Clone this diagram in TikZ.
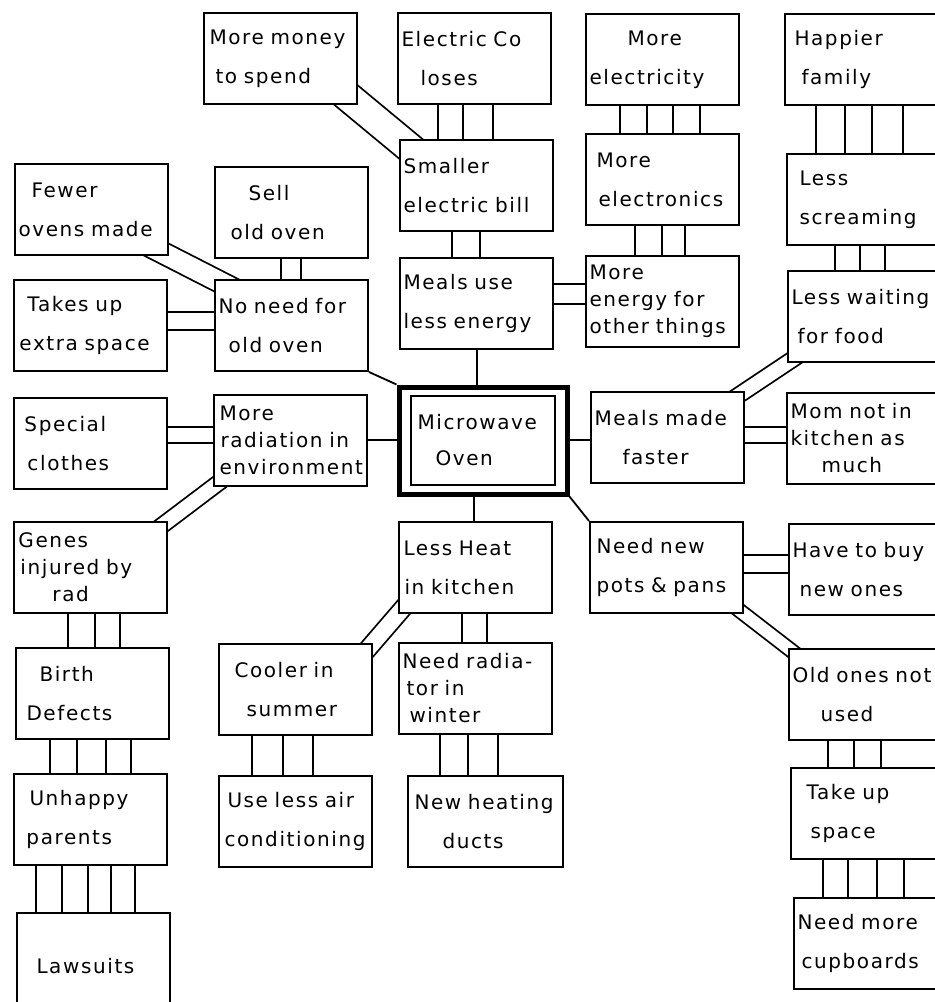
\documentclass[tikz,border=0pt]{standalone}
\usepackage{fontspec}
\setmainfont{DejaVu Sans}[LetterSpace=8]
\usetikzlibrary{backgrounds}
\tikzset{
evt/.style={
    draw,
    fill=white,
    line width=1pt,
    anchor=north west,
    minimum width=76.5pt,
    minimum height=45.5pt,
    text width=73pt,
    inner xsep=1.75pt,
    inner ysep=1pt,
    align=left,
    font=\fontsize{10}{19.5}\selectfont
},
evtthree/.style={
    evt,
    font=\fontsize{10}{13.5}\selectfont
},
cut/.style={
    minimum width=84pt,
    text width=80.5pt
},
hub/.style={
    draw,
    fill=white,
    line width=2.5pt,
    minimum width=84pt,
    minimum height=53.5pt
},
link/.style={
    line width=0.9pt
},
dlink/.style={
    link,double,double distance=#1,
    shorten <=-14pt,shorten >=-14pt
},
}
\newcommand\indt[1]{\hspace*{#1pt}}
\newcommand\vlinks[3]{\foreach \x in {#3} {\draw [link] (\x,0 |- #1.south) -- (\x,0 |- #2.north);}}
\newcommand\hlinks[3]{\foreach \y in {#3} {\draw [link] (#1.east |- 0,\y) -- (#2.west |- 0,\y);}}
\begin{document}
\begin{tikzpicture}[x=0.5pt,y=-0.5pt]
\useasboundingbox (0,0) rectangle (934,1002);
%
\node [evt] (money) at (203,12) {\indt{1}More~money\\\indt{4}to spend};
\node [evt] (elecco) at (397,12) {Electric Co\\\indt{9.5}loses};
\node [evt] (electricity) at (585,13) {\indt{19}More\\electricity};
\node [evt,cut] (happier) at (784,13) {\indt{3}Happier\\\indt{6.5}family};
%
\node [evt] (fewer) at (14,163) {\indt{6.5}Fewer\\ovens made};
\node [evt] (sell) at (214,166) {\indt{15}Sell\\\indt{6}old oven};
\node [evt] (bill) at (399,139) {Smaller\\electric bill};
\node [evt] (electronics) at (585,133) {\indt{3.5}More\\\indt{4.5}electronics};
\node [evt,cut] (screaming) at (786,153) {\indt{4.5}Less\\\indt{4.5}screaming};
%
\node [evt] (takes) at (13,279) {\indt{5}Takes up\\\indt{1}extra space};
\node [evt] (noneed) at (214,279) {No need for\\\indt{5}old oven};
\node [evt] (mealsuse) at (399,257) {Meals use\\less energy};
\node [evtthree] (energy) at (585,255) {More\\energy for\\other~things};
\node [evt,cut] (waiting) at (787,270) {Less~waiting\\\indt{3}for food};
%
\node [evt] (special) at (13,397) {\indt{3.5}Special\\\indt{5}clothes};
\node [evtthree] (radiation) at (213,394) {\indt{1}More\\\indt{1.5}radiation~in\\\indt{1}environment};
\node [hub] (oven) at (483,440.5) {};
\node [evt,anchor=center,minimum width=72pt,minimum height=44.5pt,text width=68.5pt,font=\fontsize{10}{18}\selectfont] (ovenin) at (oven.center) {\indt{1.5}Microwave\\\indt{10.5}Oven};
\node [evt] (faster) at (590,391) {Meals made\\\indt{14}faster};
\node [evtthree,cut] (mom) at (786,392) {Mom not in\\kitchen as\\\indt{15.5}much};
%
\node [evtthree] (genes) at (13,521) {\indt{0.5}Genes\\\indt{1.5}injured by\\\indt{17.5}rad};
\node [evt] (lessheat) at (398,521) {\indt{0.5}Less Heat\\\indt{1}in kitchen};
\node [evt] (pots) at (589,521) {\indt{1.5}Need new\\\indt{1.5}pots~\&~pans};
\node [evt,cut] (buy) at (788,523) {Have~to~buy\\\indt{3.5}new ones};
%
\node [evt] (birth) at (15,647) {\indt{10}Birth\\\indt{3.5}Defects};
\node [evt] (cooler) at (218,643) {\indt{6}Cooler in\\\indt{12}summer};
\node [evtthree] (radiator) at (398,642) {Need radia-\\\indt{2}tor in\\\indt{3.5}winter};
\node [evt,cut] (oldones) at (788,648) {Old~ones~not\\\indt{14}used};
%
\node [evt] (unhappy) at (13,773) {\indt{6}Unhappy\\\indt{4.5}parents};
\node [evt] (useless) at (218,775) {\indt{2.5}Use~less~air\\\indt{1}conditioning};
\node [evt,minimum width=77.5pt,text width=74pt] (heating) at (407,775) {\indt{1.5}New~heating\\\indt{15.5}ducts};
\node [evt,cut] (takeup) at (790,767) {\indt{6}Take up\\\indt{8}space};
%
\node [evt,minimum height=53pt] (lawsuits) at (16,912) {\indt{8}Lawsuits};
\node [evt,cut] (cupboards) at (793,897) {Need more\\\indt{2}cupboards};
%
\begin{scope}[on background layer]
\vlinks{mealsuse}{oven}{477}
\vlinks{oven}{lessheat}{474}
\hlinks{radiation}{oven}{440}
\hlinks{oven}{faster}{440}
\draw [link] (noneed.south east) -- (oven.north west);
\draw [link] (oven.south east) -- (pots.north west);
%
\vlinks{bill}{mealsuse}{452,480}
\hlinks{mealsuse}{energy}{284,304}
\vlinks{sell}{noneed}{281,301}
\hlinks{takes}{noneed}{312,330}
\hlinks{special}{radiation}{427,443}
\hlinks{faster}{mom}{427,443}
\hlinks{pots}{buy}{555,573}
\vlinks{lessheat}{radiator}{462,487}
\draw [dlink=14pt] (money.south east) -- (bill.north west);
\draw [dlink=10pt] (fewer.south east) -- (noneed.north west);
\draw [dlink=7pt] (radiation.south west) -- (genes.north east);
\draw [dlink=8pt] (lessheat.south west) -- (cooler.north east);
\draw [dlink=7pt] (faster.north east) -- (waiting.south west);
\draw [dlink=6pt] (pots.south east) -- (oldones.north west);
%
\vlinks{elecco}{bill}{438,463,493}
\vlinks{electronics}{energy}{635,662,685}
\vlinks{screaming}{waiting}{835,860,885}
\vlinks{oldones}{takeup}{828,854,881}
\vlinks{cooler}{useless}{252,283,313}
\vlinks{radiator}{heating}{440,468,498}
\vlinks{genes}{birth}{68,95,120}
%
\vlinks{electricity}{electronics}{620,647,673,700}
\vlinks{happier}{screaming}{816,845,872,903}
\vlinks{takeup}{cupboards}{823,848,877,904}
\vlinks{birth}{unhappy}{50,77,106,131}
%
\vlinks{unhappy}{lawsuits}{36,62,88,111,135}
\end{scope}
%
\end{tikzpicture}
\end{document}
